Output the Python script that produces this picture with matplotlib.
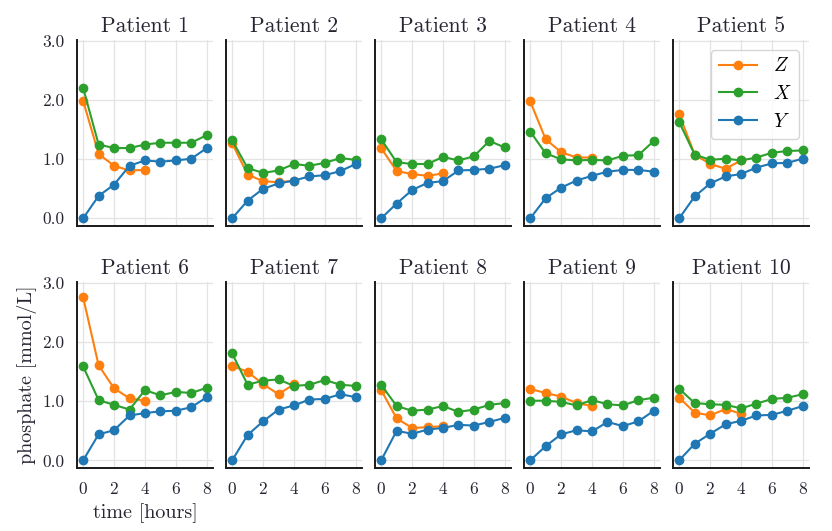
import numpy as np
import matplotlib
matplotlib.use("Agg")
import matplotlib.pyplot as plt

plt.rcParams['font.family'] = 'serif'
plt.rcParams['font.serif'] = ['cmr10', 'DejaVu Serif']
plt.rcParams['mathtext.fontset'] = 'cm'
plt.rcParams['axes.unicode_minus'] = False
plt.rcParams['axes.formatter.use_mathtext'] = True

hours = np.arange(9)
hours_z = np.arange(5)

# phosphate [mmol/L], one list per patient
Z = [
    [1.99, 1.09, 0.89, 0.81, 0.82],
    [1.27, 0.74, 0.63, 0.61, 0.64],
    [1.19, 0.80, 0.75, 0.72, 0.76],
    [1.98, 1.34, 1.12, 1.03, 1.03],
    [1.76, 1.08, 0.92, 0.84, 0.98],
    [2.76, 1.61, 1.22, 1.05, 1.01],
    [1.60, 1.50, 1.29, 1.12, 1.29],
    [1.19, 0.71, 0.55, 0.56, 0.58],
    [1.21, 1.14, 1.08, 0.97, 0.92],
    [1.06, 0.81, 0.76, 0.87, 0.79],
]
X = [
    [2.21, 1.25, 1.19, 1.19, 1.25, 1.28, 1.28, 1.28, 1.41],
    [1.32, 0.85, 0.77, 0.81, 0.92, 0.89, 0.94, 1.02, 0.99],
    [1.34, 0.95, 0.92, 0.92, 1.04, 0.98, 1.05, 1.31, 1.20],
    [1.47, 1.10, 1.00, 0.98, 0.99, 0.98, 1.06, 1.07, 1.31],
    [1.63, 1.08, 0.99, 1.01, 0.98, 1.03, 1.11, 1.14, 1.15],
    [1.59, 1.02, 0.94, 0.86, 1.19, 1.10, 1.16, 1.14, 1.23],
    [1.81, 1.28, 1.35, 1.37, 1.26, 1.28, 1.36, 1.28, 1.26],
    [1.28, 0.92, 0.84, 0.86, 0.92, 0.82, 0.86, 0.94, 0.97],
    [1.01, 1.01, 0.99, 0.93, 1.02, 0.95, 0.93, 1.02, 1.06],
    [1.21, 0.97, 0.95, 0.94, 0.88, 0.96, 1.04, 1.06, 1.12],
]
Y = [
    [0.00, 0.38, 0.57, 0.89, 0.98, 0.96, 0.98, 1.01, 1.19],
    [0.00, 0.30, 0.50, 0.59, 0.64, 0.71, 0.73, 0.80, 0.92],
    [0.00, 0.25, 0.48, 0.60, 0.63, 0.81, 0.82, 0.84, 0.90],
    [0.00, 0.34, 0.52, 0.64, 0.72, 0.79, 0.82, 0.82, 0.79],
    [0.00, 0.37, 0.59, 0.71, 0.75, 0.86, 0.93, 0.94, 1.01],
    [0.00, 0.44, 0.51, 0.76, 0.80, 0.83, 0.84, 0.90, 1.07],
    [0.00, 0.43, 0.66, 0.86, 0.93, 1.03, 1.04, 1.12, 1.07],
    [0.00, 0.50, 0.45, 0.52, 0.55, 0.60, 0.59, 0.65, 0.72],
    [0.00, 0.24, 0.44, 0.51, 0.49, 0.65, 0.58, 0.66, 0.84],
    [0.00, 0.28, 0.45, 0.61, 0.67, 0.76, 0.77, 0.84, 0.92],
]

c_z, c_x, c_y = '#ff7f0e', '#2ca02c', '#1f77b4'
txt = '#262633'

fig, axes = plt.subplots(2, 5, figsize=(8.32, 5.31), dpi=100, sharex=True, sharey=True)
fig.subplots_adjust(left=0.0925, right=0.9724, top=0.9247, bottom=0.1186,
                    wspace=0.0956, hspace=0.301)

for i, ax in enumerate(axes.flat):
    ax.plot(hours_z, Z[i], 'o-', color=c_z, ms=6, lw=1.5, label='$Z$')
    ax.plot(hours, X[i], 'o-', color=c_x, ms=6, lw=1.5, label='$X$')
    ax.plot(hours, Y[i], 'o-', color=c_y, ms=6, lw=1.5, label='$Y$')
    ax.set_title('Patient %d' % (i + 1), fontsize=15.5, color=txt, pad=6)
    ax.grid(True, color='#e3e3e3', lw=0.9)
    ax.set_axisbelow(True)
    for s in ['top', 'right']:
        ax.spines[s].set_visible(False)
    for s in ['left', 'bottom']:
        ax.spines[s].set_color('#1a1a1a')
        ax.spines[s].set_linewidth(1.4)
    ax.tick_params(length=0, labelsize=12.5, colors=txt)
    ax.tick_params(axis='y', pad=9)
    ax.tick_params(axis='x', pad=9)

axes[0, 0].set_xlim(-0.4, 8.4)
axes[0, 0].set_ylim(-0.13, 3.02)
axes[0, 0].set_xticks([0, 2, 4, 6, 8])
axes[0, 0].set_yticks([0, 1, 2, 3])
axes[0, 0].set_yticklabels(['0.0', '1.0', '2.0', '3.0'])

axes[1, 0].set_ylabel('phosphate [mmol/L]', fontsize=14.5, color=txt, labelpad=4)
axes[1, 0].set_xlabel('time [hours]', fontsize=14.5, color=txt, labelpad=5)

leg = axes[0, 4].legend(loc='upper right', fontsize=14, frameon=True, fancybox=True)
leg.get_frame().set_edgecolor('#cccccc')
leg.get_frame().set_linewidth(1.0)

fig.savefig('out.png', dpi=100)
